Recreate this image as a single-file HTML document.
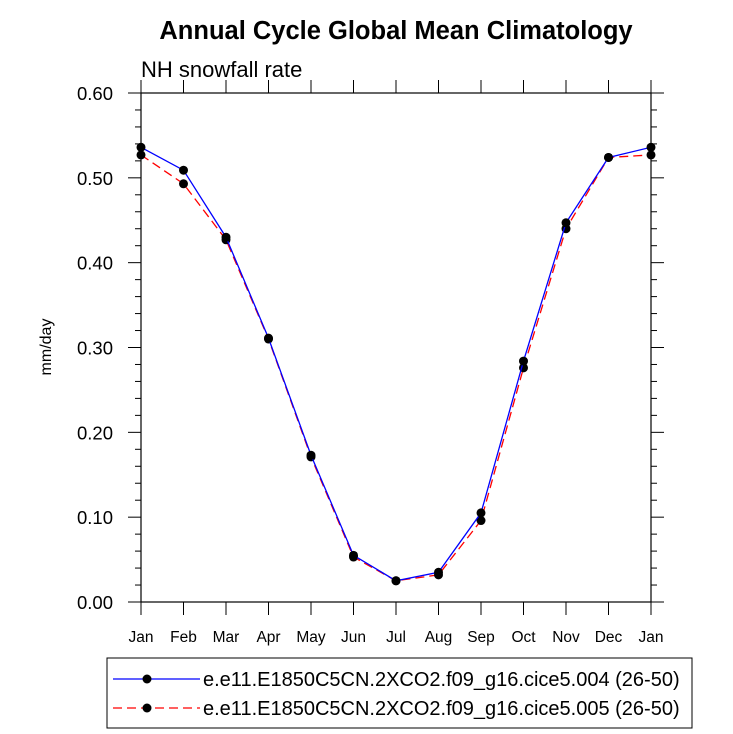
<!DOCTYPE html>
<html><head><meta charset="utf-8"><style>
body{margin:0;background:#fff}
svg{display:block;font-family:"Liberation Sans",Arial,sans-serif}
</style></head><body>
<svg id="chart" width="733" height="734">
<text x="396" y="39" text-anchor="middle" font-size="25.5" font-weight="bold">Annual Cycle Global Mean Climatology</text>
<text x="141" y="77" font-size="22">NH snowfall rate</text>
<text transform="translate(51,347) rotate(-90)" text-anchor="middle" font-size="16">mm/day</text>
<g id="axes"></g><g id="series"></g>
<rect x="107" y="658" width="585" height="70" fill="none" stroke="#000" stroke-width="1"/>
<g>
<line x1="113" y1="679" x2="200" y2="679" stroke="#0000ff" stroke-width="1.3"/>
<circle cx="147" cy="679" r="4.5"/>
<text x="203" y="686" font-size="20">e.e11.E1850C5CN.2XCO2.f09_g16.cice5.004 (26-50)</text></g>
<g>
<line x1="113" y1="708" x2="200" y2="708" stroke="#ff0000" stroke-width="1.3" stroke-dasharray="9,5"/>
<circle cx="147" cy="708" r="4.5"/>
<text x="203" y="715" font-size="20">e.e11.E1850C5CN.2XCO2.f09_g16.cice5.005 (26-50)</text></g>
</svg>
<script>
const months=["Jan","Feb","Mar","Apr","May","Jun","Jul","Aug","Sep","Oct","Nov","Dec","Jan"];
const run004=[0.536,0.509,0.430,0.311,0.173,0.055,0.025,0.035,0.105,0.284,0.447,0.524,0.536];
const run005=[0.527,0.493,0.427,0.310,0.171,0.053,0.025,0.032,0.096,0.276,0.440,0.524,0.527];
const yTicks=[0,0.1,0.2,0.3,0.4,0.5,0.6];
const yTickLabels=["0.00","0.10","0.20","0.30","0.40","0.50","0.60"];
const L=141,R=651,T=93,B=602,NS="http://www.w3.org/2000/svg";
const x=i=>L+(R-L)*i/(months.length-1);
const y=v=>B-(B-T)*v/0.6;
function mk(tag,at,par){const e=document.createElementNS(NS,tag);for(const k in at)e.setAttribute(k,at[k]);par.appendChild(e);return e;}
const ax=document.getElementById('axes');
const frame=mk('rect',{x:L,y:T,width:R-L,height:B-T,fill:'none',stroke:'#000','stroke-width':1.2},ax);


for(let v=0;v<=0.6001;v+=0.02){const maj=Math.abs(v*10-Math.round(v*10))<1e-6;const len=maj?13:6;
mk('line',{x1:L,x2:L-len,y1:y(v),y2:y(v),stroke:'#000'},ax);mk('line',{x1:R,x2:R+len,y1:y(v),y2:y(v),stroke:'#000'},ax);}
yTicks.forEach((v,i)=>{const t=mk('text',{x:113,y:y(v)+7,'text-anchor':'end','font-size':18.5},ax);t.textContent=yTickLabels[i];

});
months.forEach((m,i)=>{mk('line',{x1:x(i),x2:x(i),y1:B,y2:B+13,stroke:'#000'},ax);mk('line',{x1:x(i),x2:x(i),y1:T,y2:T-13,stroke:'#000'},ax);
const t=mk('text',{x:x(i),y:B+40,'text-anchor':'middle','font-size':15.5},ax);t.textContent=m;

});
const sg=document.getElementById('series');
function draw(vals,col,dash,name){const g=mk('g',{},sg);


const p=mk('polyline',{points:vals.map((v,i)=>x(i)+','+y(v)).join(' '),fill:'none',stroke:col,'stroke-width':1.3},g);
if(dash)p.setAttribute('stroke-dasharray',dash);
vals.forEach((v,i)=>{const c=mk('circle',{cx:x(i),cy:y(v),r:4.5,fill:'#000'},g);

});}
draw(run005,'#ff0000','9,5','series-005');
draw(run004,'#0000ff',null,'series-004');
</script>
</body></html>
